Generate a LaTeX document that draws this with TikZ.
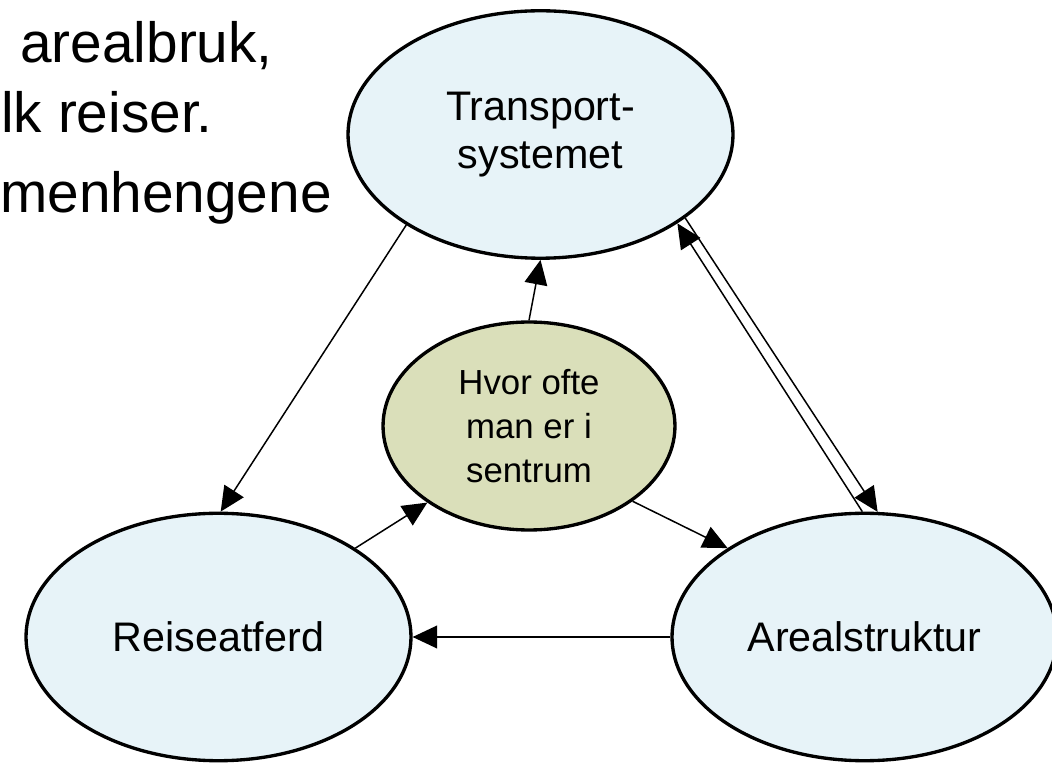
\documentclass[tikz,border=0pt]{standalone}
\usepackage{fontspec}
\setmainfont{Liberation Sans}
\usetikzlibrary{
shapes.geometric,%
arrows.meta
}
\definecolor{factorfill}{RGB}{231,243,248}
\definecolor{midfill}{RGB}{218,223,186}
\tikzset{
    factor/.style={draw, ellipse, line width=1.9pt, fill=factorfill,
        minimum width=7.7cm, minimum height=4.95cm, inner sep=0pt,
        align=center, font=\fontsize{23.5}{27.2}\selectfont},
    mediator/.style={draw, ellipse, line width=1.9pt, fill=midfill,
        minimum width=5.84cm, minimum height=4.16cm, inner sep=0pt,
        align=center, font=\fontsize{19.8}{24.9}\selectfont},
    slidetext/.style={anchor=base west, inner sep=0pt, font=\fontsize{32.3}{38}\selectfont},
    link/.style={->, line width=0.85pt}
}

\begin{document}
\begin{tikzpicture}[x=0.02cm, y=-0.02cm, >={Triangle[length=14pt, width=13pt]}]
            \useasboundingbox (0,0) rectangle (1052,766);
            % slide text cut at the left edge
            \node[slidetext] (txt1) at (20,63) {arealbruk,};
            \node[slidetext] (txt2) at (1,133) {lk reiser.};
            \node[slidetext] (txt3) at (0,213) {menhengene};
            % the three factors and the one in the middle
            \node[factor] (vT) at (540.5,134.5) {Transport-\\systemet};
            \node[factor] (vR) at (218.5,637) {Reiseatferd};
            \node[factor] (vA) at (864.5,637) {Arealstruktur};
            \node[mediator] (vH) at (529,426) {Hvor ofte\\man er i\\sentrum};
            \draw[link] (vT.214) -- (vR.89);
            \draw[link] (vH.north) -- (vT.south);
            \draw[link] (vR.33) -- (vH.217);
            \draw[link] (vH.324) -- (vA.147);
            \draw[link] (vA.west) -- (vR.east);
            \draw[link] (vA.91) -- (vT.327);
            \draw[link] (vT.330) -- (vA.84);
        \end{tikzpicture}
\end{document}
